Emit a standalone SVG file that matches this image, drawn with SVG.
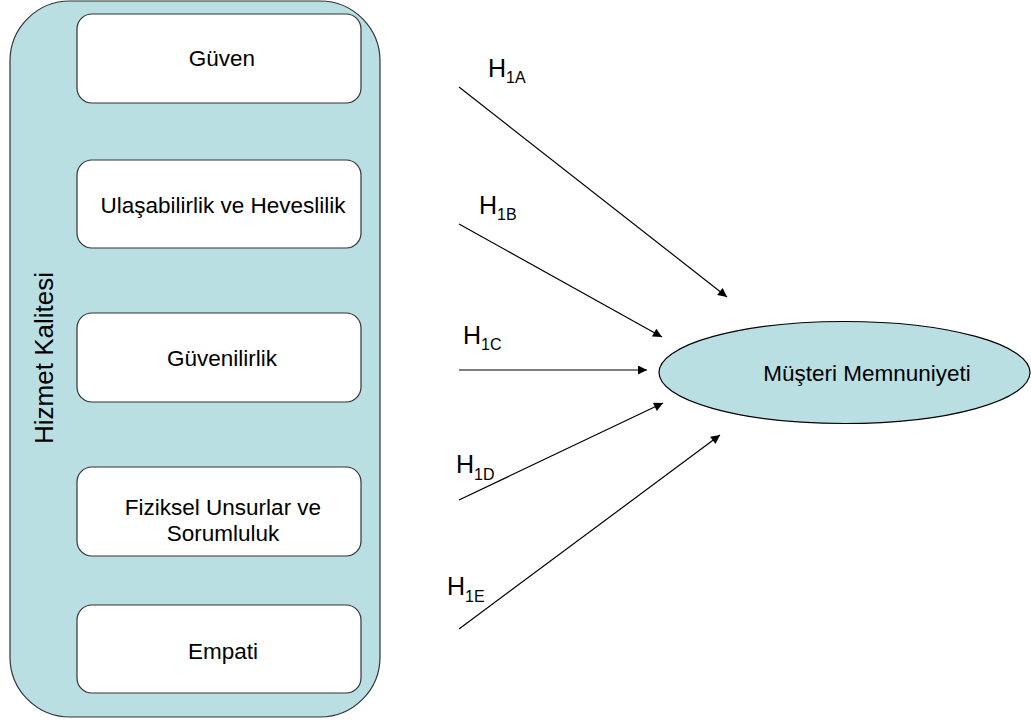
<svg xmlns="http://www.w3.org/2000/svg" width="1031" height="721" viewBox="0 0 1031 721">
<defs>
<style>
.txt{font-family:"Liberation Sans",Arial,sans-serif;font-size:22.5px;fill:#000;text-anchor:middle}
.box{fill:#fff;stroke:#333;stroke-width:1.2}
.lbl{font-family:"Liberation Sans",Arial,sans-serif;font-size:25px;fill:#000}
.sub{font-size:16px}
.conn{stroke:#000;stroke-width:1.2;fill:none;marker-end:url(#ah)}
</style>
<marker id="ah" viewBox="0 0 10 10" refX="10" refY="5" markerWidth="10" markerHeight="9" markerUnits="userSpaceOnUse" orient="auto">
<path d="M0,0 L10,5 L0,10 z" fill="#000"/>
</marker>
</defs>
<rect width="1031" height="721" fill="#fff"/>
<g id="hizmet-kalitesi">
<rect x="10" y="1" width="370" height="716" rx="60" ry="60" fill="#B9DFE2" stroke="#333" stroke-width="1.2"/>
<text class="txt" style="font-size:26px" transform="translate(53,358) rotate(-90)">Hizmet Kalitesi</text>
</g>
<g id="guven">
<rect class="box" x="77" y="14" width="284" height="89" rx="15"/>
<text class="txt" x="222" y="66">Güven</text>
</g>
<g id="ulasabilirlik">
<rect class="box" x="77" y="160" width="284" height="88" rx="15"/>
<text class="txt" x="223" y="213">Ulaşabilirlik ve Heveslilik</text>
</g>
<g id="guvenilirlik">
<rect class="box" x="77" y="313" width="284" height="89" rx="15"/>
<text class="txt" x="222" y="366">Güvenilirlik</text>
</g>
<g id="fiziksel">
<rect class="box" x="77" y="467" width="284" height="89" rx="15"/>
<text class="txt"><tspan x="223" y="515">Fiziksel Unsurlar ve</tspan><tspan x="223" y="541">Sorumluluk</tspan></text>
</g>
<g id="empati">
<rect class="box" x="77" y="605" width="284" height="88" rx="15"/>
<text class="txt" x="223" y="659">Empati</text>
</g>
<g id="musteri-memnuniyeti">
<ellipse cx="844.5" cy="372.5" rx="185.5" ry="51" fill="#B9DFE2" stroke="#000" stroke-width="1.2"/>
<text class="txt" x="867" y="381">Müşteri Memnuniyeti</text>
</g>
<g id="connectors">
<line class="conn" x1="459" y1="87" x2="727" y2="297"/>
<line class="conn" x1="459" y1="224" x2="662" y2="337"/>
<line class="conn" x1="459" y1="370" x2="647" y2="370"/>
<line class="conn" x1="459" y1="500" x2="663" y2="403"/>
<line class="conn" x1="459" y1="629" x2="720" y2="435"/>
</g>
<g id="labels">
<text class="lbl" x="488" y="77">H<tspan class="sub" dy="6">1A</tspan></text>
<text class="lbl" x="479" y="214">H<tspan class="sub" dy="6">1B</tspan></text>
<text class="lbl" x="463" y="344">H<tspan class="sub" dy="6">1C</tspan></text>
<text class="lbl" x="456" y="473">H<tspan class="sub" dy="7">1D</tspan></text>
<text class="lbl" x="447" y="595">H<tspan class="sub" dy="7">1E</tspan></text>
</g>
</svg>
